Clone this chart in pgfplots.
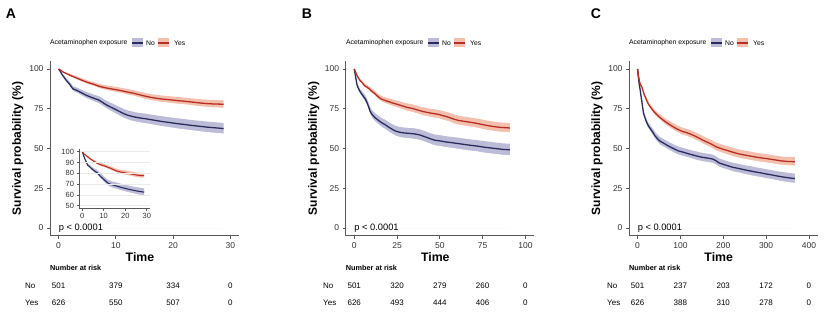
\documentclass[border=0pt]{standalone}
\usepackage{fontspec}
\setmainfont{Liberation Sans}
\usepackage{pgfplots}
\usepackage{pgfplotstable}
\pgfplotsset{compat=1.18}

\definecolor{noline}{RGB}{42,44,94}
\definecolor{noband}{RGB}{188,188,216}
\definecolor{yesline}{RGB}{183,46,36}
\definecolor{yesband}{RGB}{244,192,174}

\pgfplotstableread{
t s lo hi
0 100 100 100
0.3 98.5 98.0 99.0
0.6 96.5 95.7 97.3
1.0 94.5 93.4 95.6
1.4 92.5 91.2 93.8
1.9 90.5 89.0 92.0
2.5 87.5 85.8 89.2
3.2 86.5 84.7 88.3
4.0 85.0 83.0 87.0
4.8 83.5 81.4 85.6
5.5 82.5 80.3 84.7
6.2 81.5 79.2 83.8
7.0 80.5 78.1 82.9
7.6 79.2 76.7 81.7
8.3 77.5 74.9 80.1
9.0 76.2 73.5 78.9
9.8 74.8 72.0 77.6
10.5 73.5 70.6 76.4
11.2 72.2 69.2 75.2
12.0 71.0 68.0 74.0
13.0 70.0 66.9 73.1
14.0 69.3 66.2 72.4
15.0 68.8 65.6 72.0
16.0 68.2 65.0 71.4
17.0 67.6 64.4 70.8
18.0 67.0 63.7 70.3
19.0 66.5 63.2 69.8
20.0 66.0 62.7 69.3
21.0 65.5 62.1 68.9
22.0 65.1 61.7 68.5
23.0 64.6 61.2 68.0
24.0 64.2 60.8 67.6
25.0 63.8 60.3 67.3
26.0 63.4 59.9 66.9
27.0 63.1 59.6 66.6
28.0 62.8 59.3 66.3
28.8 62.5 59.0 66.0
}\ANo

\pgfplotstableread{
t s lo hi
0 100 100 100
0.4 99.2 98.9 99.5
0.8 98.0 97.5 98.5
1.3 97.2 96.5 97.9
2.0 96.0 95.1 96.9
3.0 94.5 93.4 95.6
4.0 93.0 91.8 94.2
5.0 91.6 90.3 92.9
6.0 90.5 89.1 91.9
7.0 89.2 87.7 90.7
8.0 88.3 86.7 89.9
9.0 87.6 85.9 89.3
10.0 87.0 85.2 88.8
11.0 86.3 84.5 88.1
12.0 85.5 83.6 87.4
13.0 84.8 82.9 86.7
14.0 83.9 81.9 85.9
15.0 83.0 81.0 85.0
16.0 82.2 80.1 84.3
17.0 81.6 79.5 83.7
18.0 81.1 78.9 83.3
19.0 80.8 78.6 83.0
20.0 80.4 78.1 82.7
21.0 80.0 77.7 82.3
22.0 79.7 77.4 82.0
23.0 79.3 77.0 81.6
24.0 78.9 76.5 81.3
25.0 78.5 76.1 80.9
26.0 78.2 75.8 80.6
27.0 78.0 75.5 80.5
28.0 77.9 75.4 80.4
28.8 77.8 75.3 80.3
}\AYes

\pgfplotstableread{
t s lo hi
0 100 100 100
0.8 95 94.0 96.0
1.6 90 88.6 91.4
2.5 87.5 85.9 89.1
3.5 85.5 83.7 87.3
4.5 84 82.0 86.0
5.5 82.5 80.3 84.7
6.5 81 78.7 83.3
7.4 79 76.6 81.4
8.3 76.5 74.0 79.0
9.2 73.5 70.9 76.1
10.3 71.5 68.8 74.2
12 69.5 66.7 72.3
14 67.8 64.9 70.7
16 66.2 63.2 69.2
18 65 61.9 68.1
20 63.5 60.3 66.7
22 62.2 59.0 65.4
24 61 57.7 64.3
26.5 60.2 56.9 63.5
29 59.8 56.4 63.2
32 59.5 56.1 62.9
35 59.2 55.7 62.7
38 58.6 55.1 62.1
41 57.5 54.0 61.0
44 56.3 52.8 59.8
47 55.2 51.6 58.8
50 54.8 51.2 58.4
53 54.2 50.6 57.8
56 53.8 50.2 57.4
60 53.2 49.5 56.9
64 52.6 48.9 56.3
68 52.0 48.3 55.7
72 51.5 47.8 55.2
76 50.8 47.0 54.6
80 50.3 46.5 54.1
84 49.8 46.0 53.6
87 49.4 45.6 53.2
90.9 49.2 45.4 53.0
}\BNo

\pgfplotstableread{
t s lo hi
0 100 100 100
1 97.5 97.0 98.0
2 95 94.2 95.8
3.2 93 92.0 94.0
4.5 91.5 90.3 92.7
6 89.5 88.2 90.8
7.5 88.5 87.1 89.9
9 87.3 85.8 88.8
10.5 85.8 84.2 87.4
12 84.5 82.8 86.2
14 82.5 80.7 84.3
16 81 79.1 82.9
18 80.2 78.2 82.2
20 79.5 77.4 81.6
22.5 78.6 76.4 80.8
25 77.8 75.5 80.1
28 76.8 74.4 79.2
31 75.8 73.3 78.3
34 75.2 72.6 77.8
37 74.2 71.6 76.8
40 73.3 70.6 76.0
43 72.6 69.9 75.3
46 72 69.2 74.8
49 71.5 68.7 74.3
52 70.6 67.7 73.5
55 69.7 66.8 72.6
58 68.5 65.5 71.5
61 67.6 64.6 70.6
64 67.1 64.1 70.1
67 66.6 63.6 69.6
70 66.1 63.1 69.1
73 65.5 62.4 68.6
76 64.8 61.7 67.9
79 64.2 61.1 67.3
82 63.7 60.6 66.8
85 63.3 60.2 66.4
88 63.1 60.0 66.2
90.9 62.9 59.8 66.0
}\BYes

\pgfplotstableread{
t s lo hi
0 100 100 100
1 97 96.4 97.6
2 94.5 93.6 95.4
3.5 91 89.9 92.1
5 88.5 87.2 89.8
6.5 86 84.6 87.4
8 83 81.5 84.5
10 79.5 77.9 81.1
12 75.5 73.8 77.2
14 72 70.2 73.8
17 69.5 67.6 71.4
21 66.5 64.5 68.5
25.6 64 61.9 66.1
31 62 59.8 64.2
36 60 57.7 62.3
41 57.8 55.4 60.2
47 56 53.5 58.5
53 54.5 51.9 57.1
60 53.5 50.9 56.1
68 52.2 49.6 54.8
76 51 48.3 53.7
85 49.8 47.1 52.5
95 48.5 45.8 51.2
105 47.8 45.1 50.5
115 47 44.3 49.7
125 46.2 43.5 48.9
135 45.5 42.7 48.3
145 44.8 42.0 47.6
155 44.3 41.5 47.1
165 43.9 41.1 46.7
175 43.4 40.6 46.2
182 42.5 39.7 45.3
190 41 38.2 43.8
198 40.2 37.4 43.0
210 39.2 36.4 42.0
222 38.2 35.3 41.1
235 37.5 34.6 40.4
248 36.7 33.8 39.6
261 36 33.0 39.0
274 35.3 32.3 38.3
287 34.7 31.7 37.7
300 34 31.0 37.0
313 33.4 30.4 36.4
326 32.7 29.7 35.7
339 32.1 29.0 35.2
352 31.6 28.5 34.7
367 31.1 28.0 34.2
}\CNo

\pgfplotstableread{
t s lo hi
0 100 100 100
1 98 97.6 98.4
2 96 95.4 96.6
3.5 93.5 92.8 94.2
5 91.5 90.7 92.3
7 90 89.1 90.9
10 88.5 87.4 89.6
13 86 84.8 87.2
16 83.5 82.2 84.8
20 81 79.6 82.4
25 78 76.5 79.5
30 76 74.4 77.6
35 74.2 72.5 75.9
42 72 70.2 73.8
50 70 68.1 71.9
58 68.2 66.2 70.2
66 66.6 64.5 68.7
75 65 62.8 67.2
84 63.5 61.2 65.8
94 62 59.7 64.3
104 60.8 58.4 63.2
114 60 57.6 62.4
124 59 56.5 61.5
134 57.8 55.3 60.3
144 56.5 54.0 59.0
154 55 52.4 57.6
164 53.8 51.2 56.4
174 52.5 49.9 55.1
184 51 48.3 53.7
194 50 47.3 52.7
204 49.2 46.5 51.9
216 48.2 45.4 51.0
228 47.2 44.4 50.0
240 46.4 43.6 49.2
252 45.8 43.0 48.6
264 45.2 42.4 48.0
276 44.6 41.8 47.4
288 44.1 41.3 46.9
300 43.7 40.9 46.5
312 43.2 40.4 46.0
324 42.7 39.9 45.5
336 42.2 39.4 45.0
348 41.9 39.1 44.7
358 41.8 39.0 44.6
367 41.7 38.9 44.5
}\CYes

\pgfplotsset{
  km/.style={
    scale only axis,
    axis on top,
    axis x line*=bottom, axis y line*=left,
    every outer x axis line/.append style={-},
    every outer y axis line/.append style={-},
    axis line style={-, black!65, line width=1pt},
    tick align=outside, major tick length=3pt,
    tick style={black!65, line width=0.8pt},
    ymin=-5, ymax=105, ytick={0,25,50,75,100},
    height=175pt,
    /pgf/number format/assume math mode=true,
    tick label style={font=\fontsize{8.5}{10}\selectfont, text=black!80},
    clip=false,
    ylabel={\bfseries Survival probability (\%)},
    ylabel style={font=\fontsize{12}{14}\selectfont, at={(axis description cs:-0.17,0.5)}, anchor=center},
    xlabel={\bfseries Time},
    xlabel style={font=\fontsize{12.3}{14}\selectfont, at={(axis description cs:0.476,-0.12)}, anchor=center},
  },
  bandfill/.style={draw=none, fill=#1, forget plot},
  bandmask/.style={draw=white, line width=1.2pt, fill=white, forget plot},
}

% confidence bands: area under the upper limit in band colour, then
% area under the lower limit masked in white (Yes band lies above No band)
\newcommand{\kmcurves}[3]{% table no, table yes, line width
  \addplot[bandfill=yesband] table[x=t, y=hi] {#2} \closedcycle;
  \addplot[bandmask] table[x=t, y=lo] {#2} \closedcycle;
  \addplot[bandfill=noband] table[x=t, y=hi] {#1} \closedcycle;
  \addplot[bandmask] table[x=t, y=lo] {#1} \closedcycle;
  \addplot[line width=#3, noline, line join=round] table[x=t, y=s] {#1};
  \addplot[line width=#3, yesline, line join=round] table[x=t, y=s] {#2};
}

\newcommand{\kmlegend}[1]{%
  \begin{scope}[shift={(#1,275pt)}, font=\fontsize{6.8}{8}\selectfont]
    \node[anchor=west, inner sep=0pt] at (0pt,0pt) {Acetaminophen exposure};
    \fill[noband] (82pt,-4.5pt) rectangle (93pt,4.5pt);
    \draw[noline, line width=1.3pt] (82pt,0pt) -- (93pt,0pt);
    \node[anchor=west, inner sep=0pt] at (96pt,0pt) {No};
    \fill[yesband] (108pt,-4.5pt) rectangle (119pt,4.5pt);
    \draw[yesline, line width=1.3pt] (108pt,0pt) -- (119pt,0pt);
    \node[anchor=west, inner sep=0pt] at (124pt,0pt) {Yes};
  \end{scope}}

\begin{document}
\begin{tikzpicture}
\path[use as bounding box] (0,0) rectangle (824pt,318pt);

% ---------------- Panel A ----------------
\begin{axis}[km, at={(50pt,82pt)}, anchor=south west, width=189pt,
  xmin=-1.5, xmax=31.5, xtick={0,10,20,30}]
  \kmcurves{\ANo}{\AYes}{1.3pt}
  \node[anchor=west, inner sep=0pt, font=\fontsize{9.3}{11}\selectfont] at (axis cs:0,0) {p < 0.0001};
  \coordinate (A0) at (axis cs:0,0);
  \coordinate (A1) at (axis cs:10,0);
  \coordinate (A2) at (axis cs:20,0);
  \coordinate (A3) at (axis cs:30,0);
\end{axis}

% inset
\begin{axis}[scale only axis, at={(79pt,109.6pt)}, anchor=south west,
  width=71pt, height=59.4pt,
  xmin=-1.5, xmax=31.5, ymin=47.5, ymax=102.5,
  xtick={0,10,20,30}, ytick={50,60,70,80,90,100},
  axis on top,
  axis x line*=bottom, axis y line*=left,
  every outer x axis line/.append style={-},
  every outer y axis line/.append style={-},
  axis line style={-, black!65, line width=0.9pt},
  tick align=outside, major tick length=2.5pt,
  tick style={black!65, line width=0.7pt},
  ymajorgrids, major grid style={black!8, line width=0.4pt},
  /pgf/number format/assume math mode=true,
  tick label style={font=\fontsize{7.5}{9}\selectfont, text=black!80},
  yticklabel style={xshift=1pt}, xticklabel style={yshift=1pt}]
  \addplot[bandfill=yesband] table[x=t, y=hi] {\AYes} |- (axis cs:0,48) -- cycle;
  \addplot[bandmask] table[x=t, y=lo] {\AYes} |- (axis cs:0,48) -- cycle;
  \addplot[bandfill=noband] table[x=t, y=hi] {\ANo} |- (axis cs:0,48) -- cycle;
  \addplot[bandmask] table[x=t, y=lo] {\ANo} |- (axis cs:0,48) -- cycle;
  \addplot[line width=1.1pt, noline, line join=round] table[x=t, y=s] {\ANo};
  \addplot[line width=1.1pt, yesline, line join=round] table[x=t, y=s] {\AYes};
\end{axis}

% ---------------- Panel B ----------------
\begin{axis}[km, at={(345.7pt,82pt)}, anchor=south west, width=188.3pt,
  xmin=-5, xmax=105, xtick={0,25,50,75,100}]
  \kmcurves{\BNo}{\BYes}{1.3pt}
  \node[anchor=west, inner sep=0pt, font=\fontsize{9.3}{11}\selectfont] at (axis cs:0,0) {p < 0.0001};
  \coordinate (B0) at (axis cs:0,0);
  \coordinate (B1) at (axis cs:25,0);
  \coordinate (B2) at (axis cs:50,0);
  \coordinate (B3) at (axis cs:75,0);
  \coordinate (B4) at (axis cs:100,0);
\end{axis}

% ---------------- Panel C ----------------
\begin{axis}[km, at={(629pt,82pt)}, anchor=south west, width=188.5pt,
  xmin=-20, xmax=420, xtick={0,100,200,300,400}]
  \kmcurves{\CNo}{\CYes}{1.3pt}
  \node[anchor=west, inner sep=0pt, font=\fontsize{9.3}{11}\selectfont] at (axis cs:0,0) {p < 0.0001};
  \coordinate (C0) at (axis cs:0,0);
  \coordinate (C1) at (axis cs:100,0);
  \coordinate (C2) at (axis cs:200,0);
  \coordinate (C3) at (axis cs:300,0);
  \coordinate (C4) at (axis cs:400,0);
\end{axis}

% panel letters
\node[font=\fontsize{14}{16}\selectfont\bfseries] at (11pt,304pt) {A};
\node[font=\fontsize{14}{16}\selectfont\bfseries] at (307pt,304pt) {B};
\node[font=\fontsize{14}{16}\selectfont\bfseries] at (596pt,304pt) {C};

% legends
\kmlegend{50pt}
\kmlegend{346pt}
\kmlegend{629pt}

% risk tables
\coordinate (rNo) at (0pt,32pt);
\coordinate (rYes) at (0pt,15pt);
\begin{scope}[font=\fontsize{8}{9.6}\selectfont]
  \node[anchor=west, inner sep=0pt, font=\fontsize{7.3}{9}\selectfont\bfseries] at (50pt,50pt) {Number at risk};
  \node[anchor=west, inner sep=0pt] at (25pt,32pt) {No};
  \node[anchor=west, inner sep=0pt] at (25pt,15pt) {Yes};
  \node at (A0 |- rNo) {501}; \node at (A1 |- rNo) {379}; \node at (A2 |- rNo) {334}; \node at (A3 |- rNo) {0};
  \node at (A0 |- rYes) {626}; \node at (A1 |- rYes) {550}; \node at (A2 |- rYes) {507}; \node at (A3 |- rYes) {0};

  \node[anchor=west, inner sep=0pt, font=\fontsize{7.3}{9}\selectfont\bfseries] at (345.7pt,50pt) {Number at risk};
  \node[anchor=west, inner sep=0pt] at (323pt,32pt) {No};
  \node[anchor=west, inner sep=0pt] at (323pt,15pt) {Yes};
  \node at (B0 |- rNo) {501}; \node at (B1 |- rNo) {320}; \node at (B2 |- rNo) {279}; \node at (B3 |- rNo) {260}; \node at (B4 |- rNo) {0};
  \node at (B0 |- rYes) {626}; \node at (B1 |- rYes) {493}; \node at (B2 |- rYes) {444}; \node at (B3 |- rYes) {406}; \node at (B4 |- rYes) {0};

  \node[anchor=west, inner sep=0pt, font=\fontsize{7.3}{9}\selectfont\bfseries] at (629pt,50pt) {Number at risk};
  \node[anchor=west, inner sep=0pt] at (607pt,32pt) {No};
  \node[anchor=west, inner sep=0pt] at (607pt,15pt) {Yes};
  \node at (C0 |- rNo) {501}; \node at (C1 |- rNo) {237}; \node at (C2 |- rNo) {203}; \node at (C3 |- rNo) {172}; \node at (C4 |- rNo) {0};
  \node at (C0 |- rYes) {626}; \node at (C1 |- rYes) {388}; \node at (C2 |- rYes) {310}; \node at (C3 |- rYes) {278}; \node at (C4 |- rYes) {0};
\end{scope}
\end{tikzpicture}
\end{document}
